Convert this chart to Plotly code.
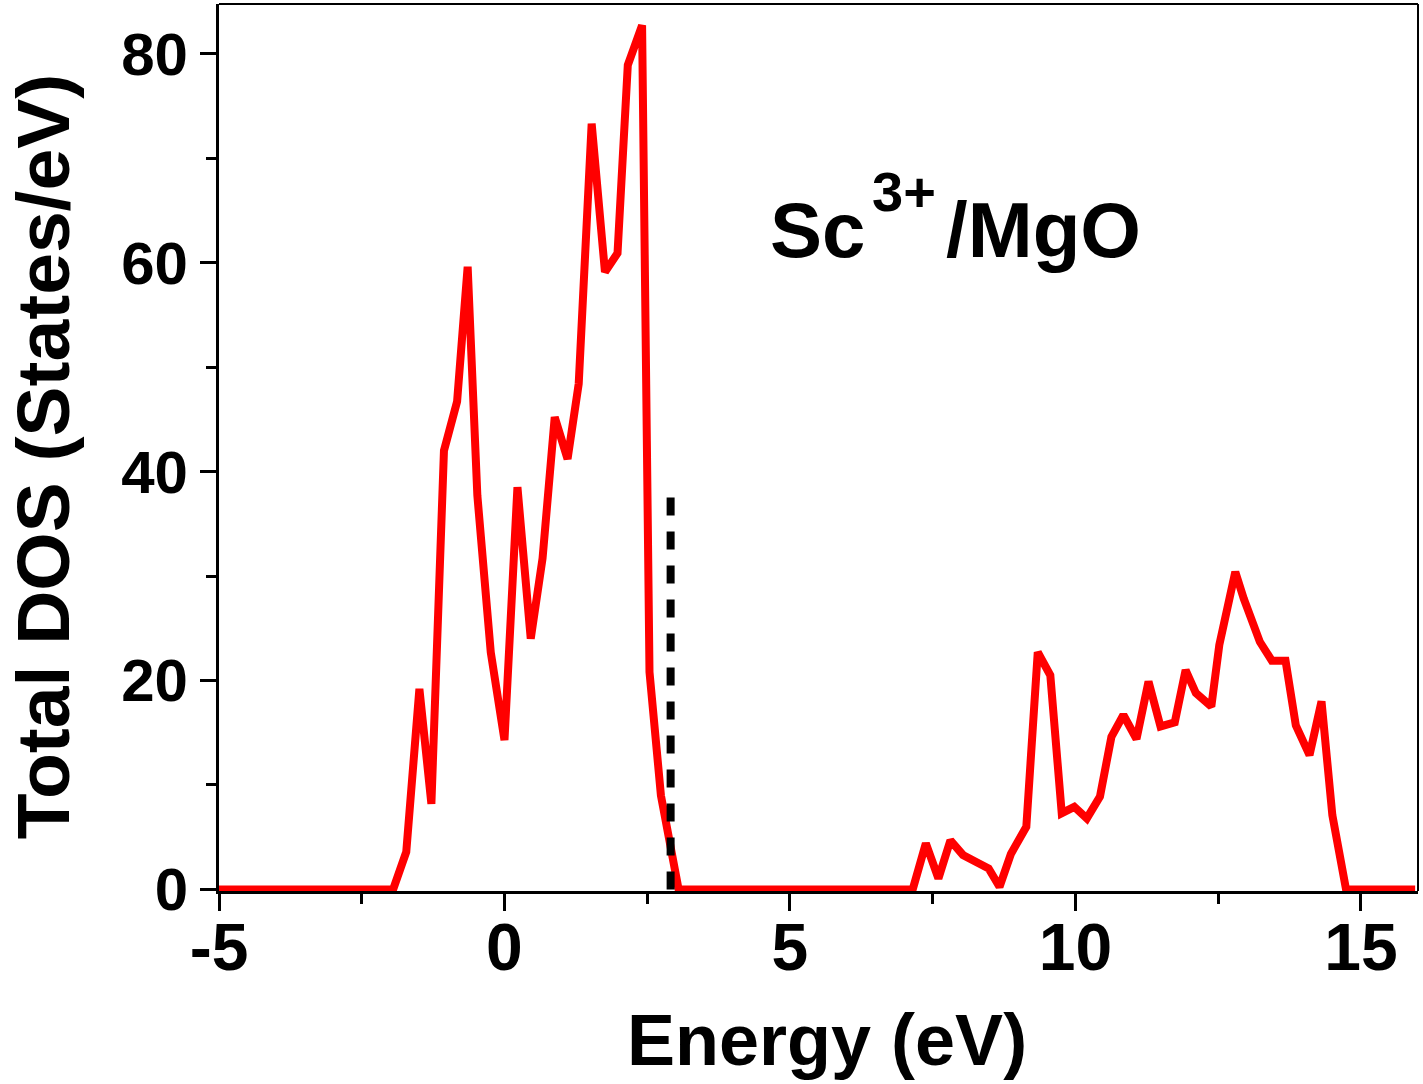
import plotly.graph_objects as go

# Total DOS of Sc3+/MgO
energy = [-5.0, -1.95, -1.72, -1.49, -1.28, -1.06, -0.83, -0.645, -0.475, -0.24,
          0.0, 0.227, 0.46, 0.667, 0.88, 1.105, 1.30, 1.527, 1.76, 1.98,
          2.16, 2.41, 2.54, 2.74, 3.05, 7.15, 7.38, 7.60, 7.81, 8.03,
          8.27, 8.48, 8.67, 8.87, 9.14, 9.34, 9.56, 9.76, 9.98, 10.20,
          10.43, 10.63, 10.84, 11.07, 11.28, 11.49, 11.74, 11.93, 12.11, 12.38,
          12.52, 12.80, 12.95, 13.23, 13.44, 13.68, 13.86, 14.10, 14.31, 14.50,
          14.74, 15.95]
dos = [0, 0, 3.6, 19.2, 8.2, 42.0, 46.7, 59.6, 37.7, 22.7,
       14.3, 38.5, 24.0, 31.7, 45.2, 41.2, 48.4, 73.3, 59.1, 60.9,
       78.9, 82.7, 20.8, 9.0, 0, 0, 4.4, 1.05, 4.7, 3.3,
       2.6, 2.0, 0.25, 3.4, 6.0, 22.7, 20.5, 7.3, 7.9, 6.8,
       8.9, 14.6, 16.7, 14.4, 19.9, 15.6, 16.0, 21.0, 18.8, 17.5,
       23.4, 30.4, 27.8, 23.7, 21.9, 21.9, 15.7, 12.85, 18.0, 7.1,
       0, 0]

# Fermi level marker
fermi_x = [2.91, 2.91]
fermi_y = [0, 38]

x_ticks = [-5, 0, 5, 10, 15]
y_ticks = [0, 20, 40, 60, 80]

FONT = "Liberation Sans, Arial, sans-serif"

fig = go.Figure()
fig.add_trace(go.Scatter(x=energy, y=dos, mode="lines",
                         line=dict(color="#FF0000", width=8), showlegend=False))
fig.add_trace(go.Scatter(x=fermi_x, y=fermi_y, mode="lines",
                         line=dict(color="#000000", width=8, dash="18px,16px"),
                         showlegend=False))

fig.update_layout(
    width=1423, height=1084,
    margin=dict(l=219, r=5, t=4, b=193),
    paper_bgcolor="white", plot_bgcolor="white",
    font=dict(family=FONT, color="black"),
    xaxis=dict(
        range=[-5, 16], tickvals=x_ticks, ticktext=[str(v) for v in x_ticks],
        ticks="outside", ticklen=17, tickwidth=3, tickcolor="black",
        showline=True, linewidth=3, linecolor="black",
        showgrid=False, zeroline=False,
        tickfont=dict(size=66, family=FONT, weight="bold"),
        ticklabelstandoff=-20,
        minor=dict(ticks="outside", ticklen=10, tickwidth=3, tickcolor="black",
                   tickvals=[-2.5, 2.5, 7.5, 12.5], showgrid=False),
    ),
    yaxis=dict(
        range=[-0.15, 84.75], tickvals=y_ticks, ticktext=[str(v) for v in y_ticks],
        ticks="outside", ticklen=16, tickwidth=3, tickcolor="black",
        showline=True, linewidth=3, linecolor="black",
        showgrid=False, zeroline=False,
        tickfont=dict(size=60, family=FONT, weight="bold"),
        ticklabelstandoff=0,
        minor=dict(ticks="outside", ticklen=10, tickwidth=3, tickcolor="black",
                   tickvals=[10, 30, 50, 70], showgrid=False),
    ),
    shapes=[
        dict(type="line", xref="paper", yref="paper", x0=0, x1=1, y0=1, y1=1,
             line=dict(color="black", width=2)),
        dict(type="line", xref="paper", yref="paper", x0=1, x1=1, y0=0, y1=1,
             line=dict(color="black", width=2)),
    ],
    annotations=[
        # axis titles
        dict(text="Energy (eV)", xref="paper", yref="paper", x=0.507, y=-0.168,
             xanchor="center", yanchor="middle", showarrow=False,
             font=dict(size=72, family=FONT, weight="bold", color="black")),
        dict(text="Total DOS (States/eV)", xref="paper", yref="paper",
             x=-219 / 1199, y=0.489, borderpad=0,
             xanchor="left", yanchor="middle", showarrow=False, textangle=-90,
             font=dict(size=75, family=FONT, weight="bold", color="black")),
        # in-plot label
        dict(text="Sc", xref="paper", yref="paper", x=0.458, y=0.745,
             xanchor="left", yanchor="middle", showarrow=False,
             font=dict(size=78, family=FONT, weight="bold", color="black")),
        dict(text="3+", xref="paper", yref="paper", x=0.543, y=0.789,
             xanchor="left", yanchor="middle", showarrow=False,
             font=dict(size=56, family=FONT, weight="bold", color="black")),
        dict(text="/MgO", xref="paper", yref="paper", x=0.605, y=0.745,
             xanchor="left", yanchor="middle", showarrow=False,
             font=dict(size=78, family=FONT, weight="bold", color="black")),
    ],
)

fig.write_html("out.html")
